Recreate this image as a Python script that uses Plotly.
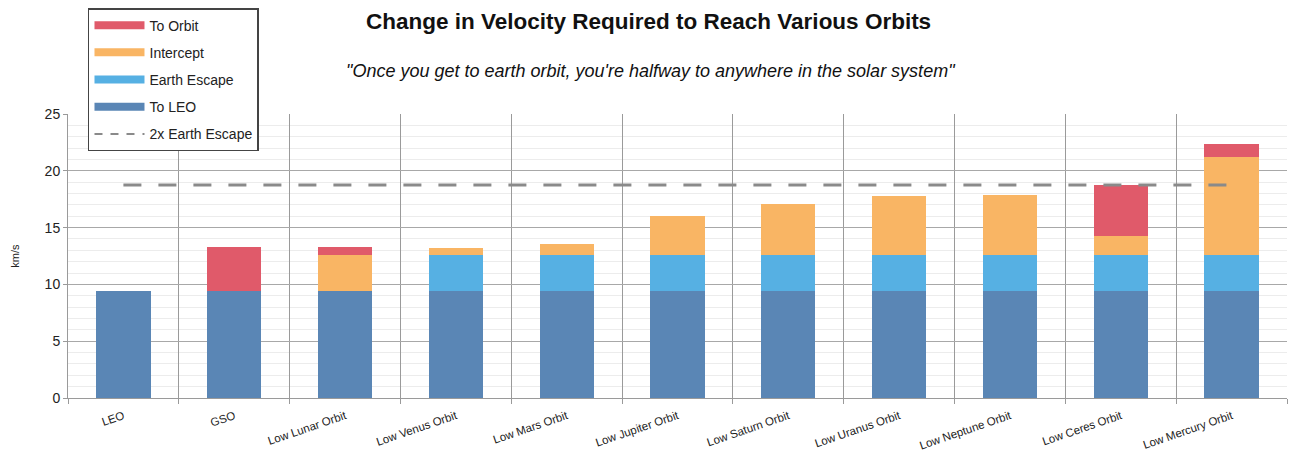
import plotly.graph_objects as go

# Destinations along the x axis
categories = [
    "LEO", "GSO", "Low Lunar Orbit", "Low Venus Orbit", "Low Mars Orbit",
    "Low Jupiter Orbit", "Low Saturn Orbit", "Low Uranus Orbit",
    "Low Neptune Orbit", "Low Ceres Orbit", "Low Mercury Orbit",
]

# Delta-v components (km/s), stacked bottom to top
to_leo = [9.4, 9.4, 9.4, 9.4, 9.4, 9.4, 9.4, 9.4, 9.4, 9.4, 9.4]
earth_escape = [0, 0, 0, 3.2, 3.2, 3.2, 3.2, 3.2, 3.2, 3.2, 3.2]
intercept = [0, 0, 3.2, 0.6, 1.0, 3.4, 4.5, 5.2, 5.3, 1.65, 8.6]
to_orbit = [0, 3.9, 0.7, 0, 0, 0, 0, 0, 0, 4.5, 1.2]

# Reference level: twice the earth-escape delta-v
two_x_earth_escape = [18.75] * len(categories)

y_ticks = [0, 5, 10, 15, 20, 25]

C_LEO = "#5a86b5"
C_ESC = "#56b0e3"
C_INT = "#f9b564"
C_ORB = "#e05a6a"
C_DASH = "#8a8a8a"

FONT = "Liberation Sans, Arial, sans-serif"

fig = go.Figure()

stack = [
    ("To LEO", to_leo, C_LEO),
    ("Earth Escape", earth_escape, C_ESC),
    ("Intercept", intercept, C_INT),
    ("To Orbit", to_orbit, C_ORB),
]
for name, vals, col in stack:
    fig.add_trace(go.Bar(
        x=categories, y=vals, name=name, marker=dict(color=col, line=dict(width=0)),
        showlegend=False,
    ))

fig.add_trace(go.Scatter(
    x=categories, y=two_x_earth_escape, mode="lines", showlegend=False,
    line=dict(color=C_DASH, width=3, dash="18px,17px"),
))

# Legend entries drawn as thick line swatches
legend_items = [
    ("To Orbit", dict(color=C_ORB, width=8)),
    ("Intercept", dict(color=C_INT, width=8)),
    ("Earth Escape", dict(color=C_ESC, width=8)),
    ("To LEO", dict(color=C_LEO, width=8)),
    ("2x Earth Escape", dict(color=C_DASH, width=2, dash="8px,8px")),
]
for i, (name, ln) in enumerate(legend_items):
    fig.add_trace(go.Scatter(
        x=[None], y=[None], mode="lines", name=name, line=ln,
        legendgroup=f"g{i}", showlegend=True,
    ))

fig.update_layout(
    width=1295, height=457,
    margin=dict(l=68, r=8, t=114, b=59),
    paper_bgcolor="white", plot_bgcolor="white",
    barmode="stack", bargap=0.51,
    font=dict(family=FONT, color="#222222"),
    showlegend=True,
    legend=dict(
        x=0.0164, y=1.373, xanchor="left", yanchor="top",
        bordercolor="#444444", borderwidth=1.5, bgcolor="white",
        font=dict(size=14, family=FONT, color="#222222"),
        tracegroupgap=6, traceorder="grouped", itemwidth=50,
    ),
    annotations=[
        dict(text="<b>Change in Velocity Required to Reach Various Orbits</b>",
             xref="paper", yref="paper", x=0.476, y=1.325, xanchor="center", yanchor="middle",
             showarrow=False, font=dict(size=22.5, family=FONT, color="#111111")),
        dict(text="<i>\"Once you get to earth orbit, you're halfway to anywhere in the solar system\"</i>",
             xref="paper", yref="paper", x=0.478, y=1.152, xanchor="center", yanchor="middle",
             showarrow=False, font=dict(size=18, family=FONT, color="#111111")),
    ],
)

fig.update_xaxes(
    type="category", tickson="boundaries", automargin=False,
    showgrid=True, gridcolor="#9a9a9a", gridwidth=1,
    showline=True, linecolor="#9a9a9a", linewidth=1,
    ticks="outside", ticklen=5, tickcolor="#9a9a9a",
    tickangle=-19, tickfont=dict(size=11.5, family=FONT, color="#222222"),
    ticklabelstandoff=6,
    range=[-0.5, len(categories) - 0.5],
)

fig.update_yaxes(
    range=[0, 25], tickvals=y_ticks, automargin=False,
    showgrid=True, gridcolor="#a8a8a8", gridwidth=1,
    minor=dict(dtick=1, showgrid=True, gridcolor="#ececec", gridwidth=1),
    showline=True, linecolor="#9a9a9a", linewidth=1,
    ticks="outside", ticklen=4, tickcolor="#9a9a9a",
    tickfont=dict(size=14, family=FONT, color="#222222"),
    zeroline=False,
    title=dict(text="km/s", font=dict(size=11, family=FONT, color="#222222"), standoff=22),
)

fig.write_html("out.html")
